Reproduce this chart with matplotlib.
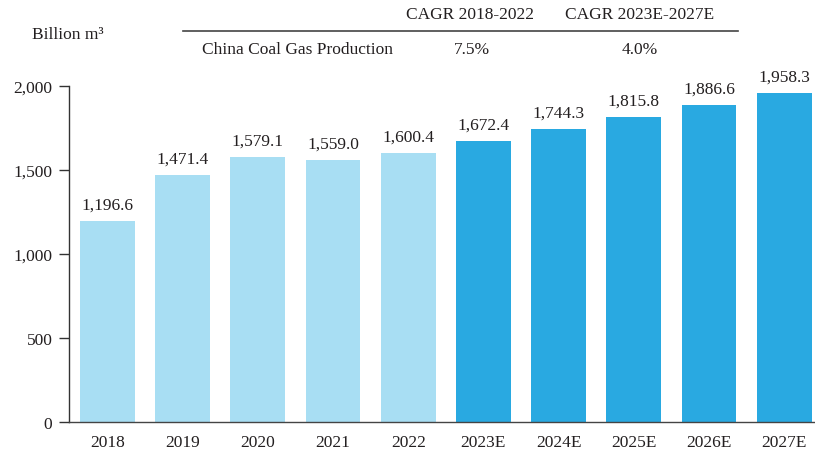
import matplotlib
matplotlib.use("Agg")
import matplotlib.pyplot as plt

categories = ["2018", "2019", "2020", "2021", "2022", "2023E", "2024E", "2025E", "2026E", "2027E"]
values = [1196.6, 1471.4, 1579.1, 1559.0, 1600.4, 1672.4, 1744.3, 1815.8, 1886.6, 1958.3]
is_forecast = [False] * 5 + [True] * 5
yticks = [0, 500, 1000, 1500, 2000]
ytick_labels = ["0", "500", "1,000", "1,500", "2,000"]
table_header = ["CAGR 2018-2022", "CAGR 2023E-2027E"]
table_row_label = "China Coal Gas Production"
table_row_values = ["7.5%", "4.0%"]
unit_label = "Billion m\u00b3"

LIGHT = "#A8DEF3"
DARK = "#29A9E1"
TEXT = "#231F20"
FS = 12.5

plt.rcParams["font.family"] = ["Liberation Serif", "DejaVu Serif"]

W, H = 815, 452
fig = plt.figure(figsize=(W / 100, H / 100), dpi=100)

def fx(px):
    return px / W

def fy(py):
    return 1 - py / H

ax = fig.add_axes([fx(69), fy(423), fx(815) - fx(69), fy(87) - fy(423)])

x = list(range(len(categories)))
colors = [DARK if f else LIGHT for f in is_forecast]
ax.bar(x, values, width=0.73, color=colors, zorder=2)

for xi, v in zip(x, values):
    ax.annotate(f"{v:,.1f}", (xi, v), xytext=(0, 6), textcoords="offset points",
                ha="center", va="bottom", fontsize=FS, color=TEXT, clip_on=False)

ax.set_xlim(-0.512, 9.41)
ax.set_ylim(0, 2000)
ax.set_xticks(x)
ax.set_xticklabels(categories, fontsize=FS, color=TEXT)
ax.set_yticks(yticks)
ax.set_yticklabels(ytick_labels, fontsize=FS, color=TEXT)
ax.tick_params(axis="x", length=0, pad=8.5)
ax.tick_params(axis="y", direction="out", length=7, width=1.0, color="#333333", pad=5)

for s in ["top", "right"]:
    ax.spines[s].set_visible(False)
ax.spines["left"].set_color("#333333")
ax.spines["left"].set_linewidth(1.0)
ax.spines["bottom"].set_color("#444444")
ax.spines["bottom"].set_linewidth(1.0)

# header table
fig.text(fx(32), fy(35), unit_label, fontsize=FS, color=TEXT, ha="left", va="center")
fig.text(fx(470), fy(15), table_header[0], fontsize=FS, color=TEXT, ha="center", va="center")
fig.text(fx(640), fy(15), table_header[1], fontsize=FS, color=TEXT, ha="center", va="center")
fig.add_artist(plt.Line2D([fx(183), fx(738)], [fy(32), fy(32)], transform=fig.transFigure,
                          color="#444444", linewidth=1.2))
fig.text(fx(202), fy(50), table_row_label, fontsize=FS, color=TEXT, ha="left", va="center")
fig.text(fx(472), fy(50), table_row_values[0], fontsize=FS, color=TEXT, ha="center", va="center")
fig.text(fx(640), fy(50), table_row_values[1], fontsize=FS, color=TEXT, ha="center", va="center")

fig.savefig("out.png", dpi=100)
